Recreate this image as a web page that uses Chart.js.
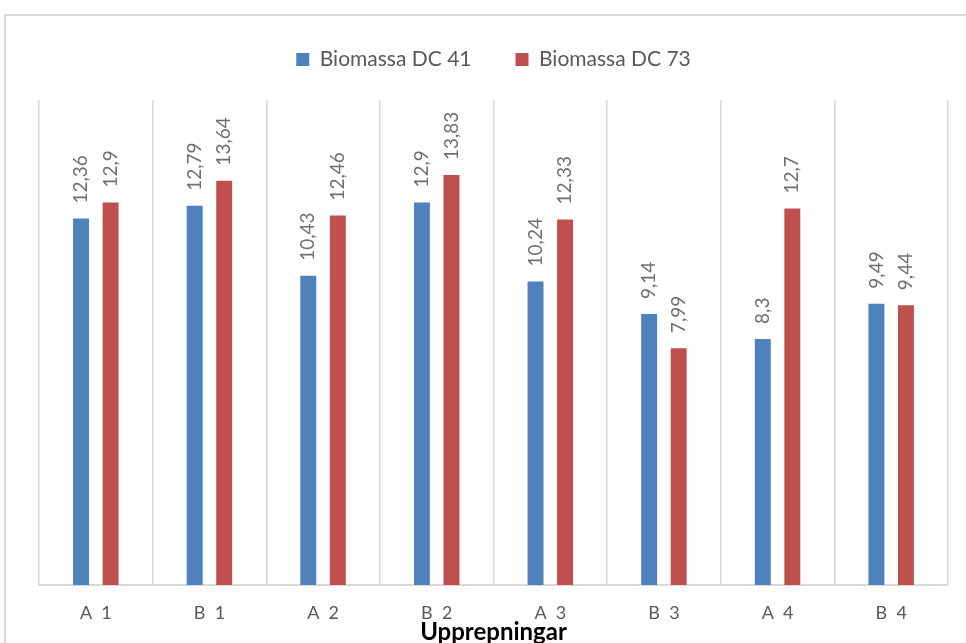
<!DOCTYPE html>
<html>
<head>
<meta charset="utf-8">
<script src="https://cdn.jsdelivr.net/npm/chart.js@4"></script>
<style>
  html, body { margin: 0; padding: 0; background: #fff; overflow: hidden; }
  #frame { position: absolute; left: 4px; top: 14px; width: 1000px; height: 700px; border: 2px solid #d9d9d9; box-sizing: border-box; }
  #chart { position: absolute; left: 0; top: 0; }
</style>
</head>
<body>
<div id="frame"></div>
<canvas id="chart" width="966" height="643"></canvas>
<script>
// categories and series
const categories = ['A  1', 'B  1', 'A  2', 'B  2', 'A  3', 'B  3', 'A  4', 'B  4']
const dc41 = [12.36, 12.79, 10.43, 12.9, 10.24, 9.14, 8.3, 9.49]
const dc73 = [12.9, 13.64, 12.46, 13.83, 12.33, 7.99, 12.7, 9.44]

const FONT = 'Lato, "Open Sans", sans-serif'

// fixed legend block height so the plot starts at the right place
const legendGap = {
    id: 'legendGap',
    beforeInit(chart) {
        const fit = chart.legend.fit
        chart.legend.fit = function () {
            fit.bind(chart.legend)()
            this.height = 95
        }
    }
}

// rotated value labels above the bars
const valueLabels = {
    id: 'valueLabels',
    afterDatasetsDraw(chart) {
        const ctx = chart.ctx
        ctx.save()
        ctx.fillStyle = '#707070'
        ctx.font = '19px ' + FONT
        ctx.textAlign = 'left'
        ctx.textBaseline = 'middle'
        chart.data.datasets.forEach((ds, i) => {
            chart.getDatasetMeta(i).data.forEach((bar, j) => {
                ctx.save()
                ctx.translate(bar.x, bar.y - 15)
                ctx.rotate(-Math.PI / 2)
                ctx.fillText(String(ds.data[j]).replace('.', ','), 0, 0)
                ctx.restore()
            })
        })
        ctx.restore()
    }
}

new Chart(document.getElementById('chart').getContext('2d'), {
    type: 'bar',
    data: {
        labels: categories,
        datasets: [
            { label: 'Biomassa DC 41', data: dc41, backgroundColor: '#4f81bd' },
            { label: 'Biomassa DC 73', data: dc73, backgroundColor: '#c0504d' }
        ]
    },
    options: {
        responsive: false,
        animation: false,
        layout: { padding: { left: 39, right: 18, top: 5, bottom: 0 } },
        datasets: { bar: { categoryPercentage: 0.52, barPercentage: 0.54 } },
        plugins: {
            legend: {
                position: 'top',
                labels: {
                    boxWidth: 13, boxHeight: 13, padding: 44,
                    color: '#595959',
                    font: { family: FONT, size: 21 }
                }
            },
            tooltip: { enabled: false }
        },
        scales: {
            y: { display: false, min: 0, max: 16.36 },
            x: {
                afterFit(scale) { scale.height = 58 },
                grid: { offset: true, color: '#d9d9d9', lineWidth: 1.5, drawTicks: false },
                border: { color: '#d9d9d9', width: 2 },
                ticks: { color: '#595959', padding: 17, font: { family: FONT, size: 18 } },
                title: {
                    display: true, text: 'Upprepningar', color: '#000',
                    font: { family: FONT, size: 24, weight: 'bold' },
                    padding: { top: 0, bottom: -4 }
                }
            }
        }
    },
    plugins: [legendGap, valueLabels]
})
</script>
</body>
</html>
